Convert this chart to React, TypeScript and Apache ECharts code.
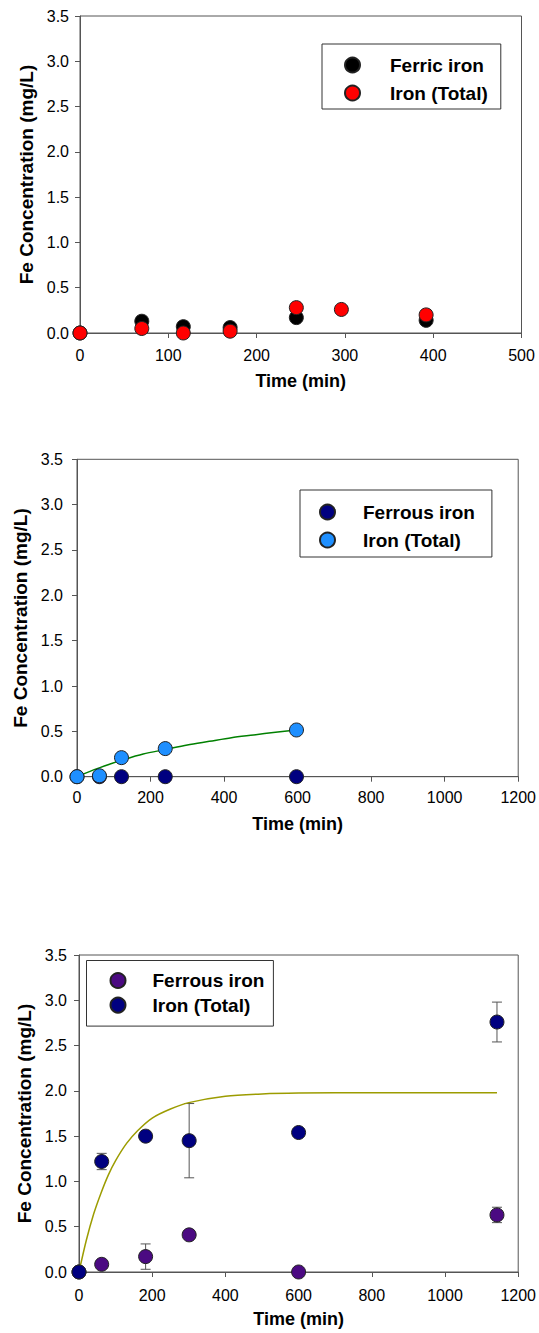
import React, { useEffect, useRef } from "react";
import * as echarts from "echarts";

// ---------- Panel 1 ----------
const p1FerricTime = [0, 70, 117, 170, 245, 392];
const p1Ferric = [0, 0.13, 0.07, 0.06, 0.17, 0.14];
const p1TotalTime = [0, 70, 117, 170, 245, 296, 392];
const p1Total = [0, 0.05, 0.0, 0.02, 0.28, 0.26, 0.2];
const p1Names = ["Ferric iron", "Iron (Total)"];
const p1XTicks = [0, 500, 100];

// ---------- Panel 2 ----------
const p2Time = [0, 61, 121, 240, 597];
const p2Ferrous = [0, 0, 0, 0, 0];
const p2Total = [0, 0.01, 0.21, 0.31, 0.515];
const p2FitTime = [0, 45, 90, 120, 180, 240, 300, 360, 420, 480, 540, 597];
const p2Fit = [0, 0.075, 0.14, 0.18, 0.25, 0.3, 0.35, 0.39, 0.43, 0.46, 0.49, 0.515];
const p2Names = ["Ferrous iron", "Iron (Total)"];
const p2XTicks = [0, 1200, 200];

// ---------- Panel 3 ----------
const p3Time = [0, 62, 182, 301, 600, 1142];
const p3Ferrous = [0, 0.085, 0.17, 0.41, 0, 0.63];
const p3FerrousErr = [0, 0, 0.14, 0, 0, 0.085];
const p3Total = [0, 1.22, 1.5, 1.45, 1.54, 2.76];
const p3TotalErr = [0, 0.09, 0.03, 0.41, 0, 0.22];
const p3FitTime = [0, 20, 40, 60, 80, 100, 130, 160, 200, 250, 300, 400, 500, 600, 800, 1000, 1142];
const p3Fit = [0, 0.35, 0.64, 0.87, 1.07, 1.23, 1.42, 1.56, 1.7, 1.8, 1.87, 1.94, 1.965, 1.975, 1.98, 1.98, 1.98];
const p3Names = ["Ferrous iron", "Iron (Total)"];
const p3XTicks = [0, 1200, 200];

const yTicks = [0, 3.5, 0.5];

const FONT = "'Liberation Sans', Arial, Helvetica, sans-serif";
const AXIS_COLOR = "#555";

function zip(xs: number[], ys: number[]) {
  return xs.map((x, i) => [x, ys[i]]);
}

function errData(xs: number[], ys: number[], es: number[]) {
  const out: number[][] = [];
  xs.forEach((x, i) => {
    if (es[i] > 0) out.push([x, ys[i] - es[i], ys[i] + es[i]]);
  });
  return out;
}

function errSeries(data: number[][]) {
  return {
    type: "custom",
    silent: true,
    z: 1,
    encode: { x: 0, y: [1, 2] },
    data,
    renderItem: (params: any, api: any) => {
      const x = api.value(0);
      const lo = api.coord([x, api.value(1)]);
      const hi = api.coord([x, api.value(2)]);
      const hw = 5;
      const style = { stroke: "#555", lineWidth: 1 };
      return {
        type: "group",
        children: [
          { type: "line", shape: { x1: lo[0], y1: lo[1], x2: hi[0], y2: hi[1] }, style },
          { type: "line", shape: { x1: lo[0] - hw, y1: lo[1], x2: lo[0] + hw, y2: lo[1] }, style },
          { type: "line", shape: { x1: hi[0] - hw, y1: hi[1], x2: hi[0] + hw, y2: hi[1] }, style },
        ],
      };
    },
  };
}

function scatter(name: string, data: number[][], color: string, z = 2) {
  return {
    type: "scatter",
    name,
    data,
    symbol: "circle",
    symbolSize: 14,
    z,
    itemStyle: { color, borderColor: "#222", borderWidth: 1, opacity: 1 },
  };
}

function fitLine(data: number[][], color: string) {
  return {
    type: "line",
    data,
    smooth: 0.3,
    showSymbol: false,
    symbol: "none",
    z: 3,
    silent: true,
    lineStyle: { color, width: 1.5 },
  };
}

function baseOption(cfg: any) {
  return {
    animation: false,
    grid: {
      left: cfg.grid[0],
      top: cfg.grid[1],
      width: cfg.grid[2],
      height: cfg.grid[3],
      show: true,
      borderColor: AXIS_COLOR,
      borderWidth: 1,
      backgroundColor: "transparent",
    },
    xAxis: {
      type: "value",
      min: cfg.xTicks[0],
      max: cfg.xTicks[1],
      interval: cfg.xTicks[2],
      name: "Time (min)",
      nameLocation: "middle",
      nameGap: cfg.xNameGap,
      nameTextStyle: { fontFamily: FONT, fontWeight: "bold", fontSize: 18, color: "#000" },
      axisLine: { show: true, onZero: false, lineStyle: { color: AXIS_COLOR, width: 1 } },
      axisTick: { show: true, length: 5, lineStyle: { color: AXIS_COLOR } },
      axisLabel: {
        fontFamily: FONT,
        fontSize: 16,
        color: "#000",
        margin: cfg.xLabelMargin,
        formatter: (v: number) => String(v),
      },
      splitLine: { show: false },
    },
    yAxis: {
      type: "value",
      min: yTicks[0],
      max: yTicks[1],
      interval: yTicks[2],
      name: "Fe Concentration (mg/L)",
      nameLocation: "middle",
      nameGap: cfg.yNameGap,
      nameTextStyle: { fontFamily: FONT, fontWeight: "bold", fontSize: 19, color: "#000" },
      axisLine: { show: true, onZero: false, lineStyle: { color: AXIS_COLOR, width: 1 } },
      axisTick: { show: true, length: 5, lineStyle: { color: AXIS_COLOR } },
      axisLabel: {
        fontFamily: FONT,
        fontSize: 16,
        color: "#000",
        margin: cfg.yLabelMargin,
        formatter: (v: number) => v.toFixed(1),
      },
      splitLine: { show: false },
    },
    legend: {
      orient: "vertical",
      left: cfg.legend.left,
      top: cfg.legend.top,
      padding: cfg.legend.padding,
      itemWidth: 15,
      itemHeight: 15,
      itemGap: cfg.legend.itemGap,
      icon: "circle",
      borderColor: "#333",
      borderWidth: 1,
      backgroundColor: "#fff",
      selectedMode: false,
      formatter: (name: string) => "{g|}" + name,
      textStyle: {
        fontFamily: FONT,
        fontWeight: "bold",
        fontSize: 19,
        color: "#000",
        lineHeight: 22,
        rich: { g: { width: cfg.legend.textGap, height: 22 } },
      },
      data: cfg.legend.data,
    },
    series: cfg.series,
  };
}

const option1 = baseOption({
  grid: [80, 16, 441.5, 317],
  xTicks: p1XTicks,
  xNameGap: 39,
  xLabelMargin: 14,
  yNameGap: 44,
  yLabelMargin: 11,
  legend: { left: 322, top: 44, padding: [10, 13, 5, 22], textGap: 25, itemGap: 6, data: p1Names },
  series: [
    scatter(p1Names[0], zip(p1FerricTime, p1Ferric), "#000000", 2),
    scatter(p1Names[1], zip(p1TotalTime, p1Total), "#ff0000", 3),
  ],
});

const option2 = baseOption({
  grid: [77, 39.3, 444, 317.4],
  xTicks: p2XTicks,
  xNameGap: 38,
  xLabelMargin: 13,
  yNameGap: 44,
  yLabelMargin: 14,
  legend: { left: 300, top: 70, padding: [11, 17, 6, 19], textGap: 23, itemGap: 6, data: p2Names },
  series: [
    scatter(p2Names[0], zip(p2Time, p2Ferrous), "#000080", 2),
    scatter(p2Names[1], zip(p2Time, p2Total), "#1e8fff", 3),
    fitLine(zip(p2FitTime, p2Fit), "#008000"),
  ],
});

const option3 = baseOption({
  grid: [79, 95, 441, 317],
  xTicks: p3XTicks,
  xNameGap: 38,
  xLabelMargin: 15,
  yNameGap: 44,
  yLabelMargin: 12,
  legend: { left: 86.5, top: 100.5, padding: [9, 9, 10, 23], textGap: 22, itemGap: 2.6, data: p3Names },
  series: [
    errSeries(errData(p3Time, p3Ferrous, p3FerrousErr)),
    errSeries(errData(p3Time, p3Total, p3TotalErr)),
    scatter(p3Names[0], zip(p3Time, p3Ferrous), "#4b0a82", 2),
    scatter(p3Names[1], zip(p3Time, p3Total), "#000080", 3),
    fitLine(zip(p3FitTime, p3Fit), "#9c9c00"),
  ],
});

function Chart({ option, top, height }: { option: any; top: number; height: number }) {
  const ref = useRef<HTMLDivElement>(null);
  useEffect(() => {
    if (!ref.current) return;
    const chart = echarts.init(ref.current, undefined, { renderer: "svg" });
    chart.setOption(option);
    return () => chart.dispose();
  }, [option]);
  return (
    <div
      ref={ref}
      style={{ position: "absolute", left: 0, top, width: 539, height }}
    />
  );
}

export default function App() {
  return (
    <div
      style={{
        position: "absolute",
        left: 0,
        top: 0,
        width: 539,
        height: 1333,
        background: "#fff",
        overflow: "hidden",
      }}
    >
      <Chart option={option1} top={0} height={420} />
      <Chart option={option2} top={420} height={440} />
      <Chart option={option3} top={860} height={473} />
    </div>
  );
}
